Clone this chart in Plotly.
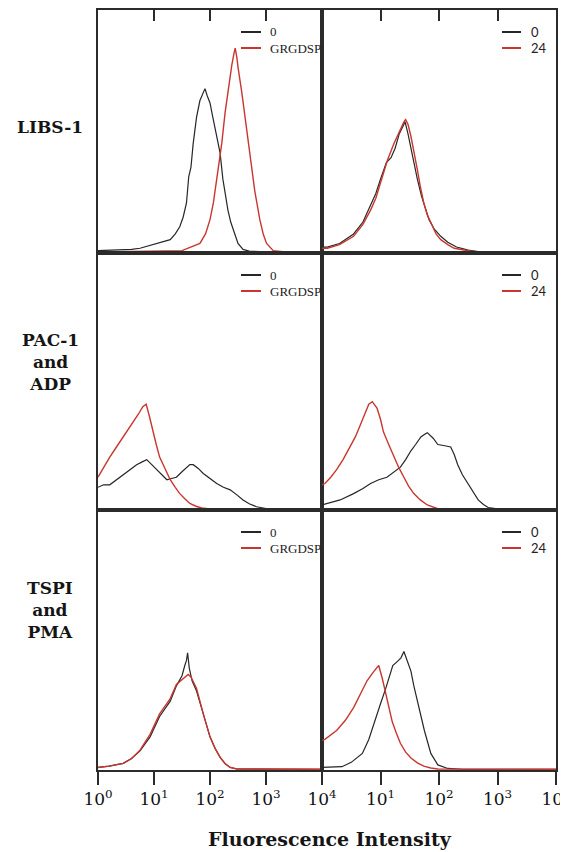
import plotly.graph_objects as go

# ---------------- data (log10 decade positions, % of panel height) ----------------
row_labels = ["LIBS-1", "PAC-1<br>and<br>ADP", "TSPI<br>and<br>PMA"]
legend_left = ["0", "GRGDSP"]
legend_right = ["0", "24"]
tick_vals = [1, 10, 100, 1000, 10000]
tick_text_left = ["10<sup>0</sup>", "10<sup>1</sup>", "10<sup>2</sup>", "10<sup>3</sup>", "10<sup>4</sup>"]
tick_text_right = ["", "10<sup>1</sup>", "10<sup>2</sup>", "10<sup>3</sup>", "10<sup>4</sup>"]
x_title = "Fluorescence Intensity"

# LIBS-1, left (0 vs GRGDSP)
black_A_d = [0.0, 0.3, 0.6, 0.75, 0.9, 1.05, 1.15, 1.29, 1.38, 1.46, 1.52, 1.58, 1.62, 1.66, 1.70, 1.76, 1.82,
             1.87, 1.91, 1.95, 2.0, 2.05, 2.09, 2.14, 2.18, 2.23, 2.28, 2.32, 2.37, 2.41, 2.46, 2.5, 2.59, 2.7, 3.0, 4.0]
black_A_h = [1.0, 1.2, 1.5, 2.0, 3.0, 4.0, 4.5, 5.6, 8, 11, 15, 21, 32, 36, 46, 57, 64,
             67, 69, 66, 63, 57, 52, 46, 42, 31, 24, 18, 13, 10, 6, 4, 1.5, 0.8, 0.5, 0.4]
red_A_d = [0.0, 1.0, 1.5, 1.82, 1.92, 2.0, 2.06, 2.12, 2.17, 2.21, 2.27, 2.33, 2.39, 2.43, 2.45, 2.48, 2.5,
           2.57, 2.63, 2.71, 2.8, 2.89, 2.95, 3.01, 3.13, 3.3, 4.0]
red_A_h = [0.4, 0.6, 1.0, 4, 8, 14, 21, 31, 39, 46, 59, 70, 79, 84, 86, 82, 78,
           67, 56, 42, 26, 14, 8, 4, 1, 0.5, 0.4]

# LIBS-1, right (0 vs 24)
black_B_d = [0, 0.09, 0.3, 0.54, 0.7, 0.83, 0.92, 1.0, 1.1, 1.18, 1.25, 1.32, 1.38, 1.42, 1.47, 1.52, 1.58,
             1.63, 1.7, 1.76, 1.83, 1.92, 2.03, 2.15, 2.3, 2.5, 2.7, 4.0]
black_B_h = [2.5, 2.5, 4, 8, 13, 20, 25, 31, 38, 40, 44, 50, 53, 55, 50, 44, 37,
             31, 24, 19, 14, 10, 7, 4.5, 2.5, 1.2, 0.5, 0.3]
red_B_d = [0, 0.09, 0.3, 0.54, 0.7, 0.83, 0.92, 1.0, 1.12, 1.23, 1.34, 1.4, 1.43, 1.47, 1.52, 1.58, 1.63,
           1.68, 1.74, 1.8, 1.86, 1.95, 2.03, 2.15, 2.26, 2.6, 4.0]
red_B_h = [2, 2, 3.5, 7, 12, 18, 23, 29, 39, 46, 52, 55, 56, 54, 49, 42, 35,
           28, 21, 16, 12.5, 8, 5.6, 3.5, 2, 0.5, 0.3]

# PAC-1 and ADP, left
black_C_d = [0.0, 0.1, 0.21, 0.33, 0.45, 0.57, 0.69, 0.78, 0.87, 0.96, 1.05, 1.14, 1.23, 1.31, 1.4, 1.49,
             1.58, 1.64, 1.70, 1.79, 1.88, 2.0, 2.12, 2.24, 2.36, 2.48, 2.59, 2.7, 2.83, 3.0, 4.0]
black_C_h = [9, 10, 10, 12, 14, 16, 18, 19, 20, 18, 16, 14, 12, 12.5, 13, 15,
             17, 18, 18, 16.5, 14.5, 12.5, 10.5, 9, 8, 6, 4, 2.5, 1.3, 0.6, 0.3]
red_C_d = [0.0, 0.1, 0.21, 0.33, 0.45, 0.55, 0.63, 0.72, 0.8, 0.86, 0.92, 0.98, 1.04, 1.1, 1.2, 1.29,
           1.38, 1.46, 1.55, 1.64, 1.75, 1.85, 2.0, 4.0]
red_C_h = [13, 17, 21, 25, 29, 32, 35, 38, 41, 42, 37, 31, 26, 21, 16, 12,
           9, 6.5, 4.5, 2.6, 1.5, 0.8, 0.4, 0.3]

# PAC-1 and ADP, right
black_D_d = [0.0, 0.15, 0.31, 0.54, 0.7, 0.83, 0.97, 1.11, 1.22, 1.34, 1.43, 1.52, 1.6, 1.69, 1.75, 1.8,
             1.9, 1.98, 2.1, 2.2, 2.26, 2.32, 2.4, 2.49, 2.58, 2.67, 2.76, 2.84, 3.0, 4.0]
black_D_h = [2, 3, 4, 6.5, 8.5, 10.5, 12, 13, 15, 17, 20, 23.5, 26, 29, 30, 30.7,
             28.5, 26, 25.5, 25, 22, 18, 14, 10.5, 7, 4, 2.2, 1, 0.5, 0.3]
red_D_d = [0.0, 0.05, 0.15, 0.25, 0.36, 0.48, 0.57, 0.66, 0.73, 0.8, 0.86, 0.94, 1.0, 1.05, 1.14, 1.23,
           1.31, 1.4, 1.48, 1.57, 1.68, 1.8, 1.98, 4.0]
red_D_h = [10, 10.5, 13, 16, 20, 25, 29, 34, 38, 42, 43, 40.5, 36, 31, 26, 21,
           17, 13, 9.5, 6.5, 4, 2, 0.5, 0.3]

# TSPI and PMA, left
black_E_d = [0.0, 0.2, 0.45, 0.6, 0.75, 0.93, 1.1, 1.29, 1.4, 1.5, 1.55, 1.58, 1.6, 1.63, 1.68, 1.76,
             1.88, 2.0, 2.09, 2.18, 2.27, 2.36, 2.48, 4.0]
black_E_h = [1, 1.5, 2.6, 4.5, 7.5, 13, 21, 27, 33, 37, 41, 43, 46, 40, 35, 31,
             22, 13, 8.5, 5, 2.5, 1, 0.4, 0.3]
red_E_d = [0.0, 0.2, 0.45, 0.6, 0.75, 0.93, 1.1, 1.29, 1.4, 1.52, 1.57, 1.61, 1.66, 1.76, 1.88, 2.0,
           2.09, 2.18, 2.27, 2.36, 2.48, 4.0]
red_E_h = [1, 1.5, 2.6, 4.5, 7.8, 14, 22, 28, 33.6, 36, 37, 37.5, 36.5, 32, 22, 13,
           8.5, 5, 2.5, 1, 0.4, 0.3]

# TSPI and PMA, right
black_F_d = [0.0, 0.34, 0.5, 0.69, 0.8, 0.92, 1.0, 1.09, 1.15, 1.21, 1.29, 1.35, 1.40, 1.46, 1.52, 1.57,
             1.63, 1.69, 1.75, 1.86, 1.98, 2.15, 2.4, 4.0]
black_F_h = [1, 1.3, 3, 6.5, 12, 20.7, 26, 32, 37, 41, 42.6, 44, 46.5, 43, 38.8, 33,
             27, 21, 15.5, 6.5, 2, 0.6, 0.3, 0.3]
red_F_d = [0.0, 0.05, 0.25, 0.4, 0.54, 0.66, 0.77, 0.88, 0.97, 1.03, 1.09, 1.15, 1.2, 1.27, 1.34, 1.43,
           1.52, 1.63, 1.74, 1.86, 1.98, 4.0]
red_F_h = [11.6, 12, 15.5, 19.5, 24.5, 30, 35, 38.5, 41, 36, 30, 24, 19, 14.5, 10.5, 7,
           4.7, 2.8, 1.5, 0.8, 0.4, 0.3]

panels = [
    (black_A_d, black_A_h, red_A_d, red_A_h),
    (black_B_d, black_B_h, red_B_d, red_B_h),
    (black_C_d, black_C_h, red_C_d, red_C_h),
    (black_D_d, black_D_h, red_D_d, red_D_h),
    (black_E_d, black_E_h, red_E_d, red_E_h),
    (black_F_d, black_F_h, red_F_d, red_F_h),
]

# ---------------- layout geometry ----------------
OFF = 8                      # page body margin of the browser
W, H = 560, 844
def px(x):
    return (x - OFF) / W
def py(y):
    return 1 - (y - OFF) / H

col_x = [(98, 322), (322, 556)]
row_y = [(10, 253), (253, 510), (510, 770)]

BLACK = "#262626"
RED = "#c8362f"
AXC = "#2b2b2b"

fig = go.Figure()
layout = dict(width=W, height=H, margin=dict(l=0, r=0, t=0, b=0, autoexpand=False),
              paper_bgcolor="white", plot_bgcolor="white", showlegend=False)

shapes = []
annotations = []

for i, (bd, bh, rd, rh) in enumerate(panels):
    r, c = divmod(i, 2)
    k = i + 1
    xa = "x" if k == 1 else f"x{k}"
    ya = "y" if k == 1 else f"y{k}"
    fig.add_trace(go.Scatter(x=[10 ** d for d in bd], y=bh, mode="lines",
                             line=dict(color=BLACK, width=1.2), xaxis=xa, yaxis=ya))
    fig.add_trace(go.Scatter(x=[10 ** d for d in rd], y=rh, mode="lines",
                             line=dict(color=RED, width=1.4), xaxis=xa, yaxis=ya))

    x0, x1 = col_x[c]
    y0, y1 = row_y[r]
    xaxis = dict(type="log", range=[0, 4], domain=[px(x0), px(x1)], anchor=ya,
                 showline=True, mirror=True, linecolor=AXC, linewidth=1.6,
                 showgrid=False, zeroline=False, fixedrange=True, automargin=False)
    if r == 0:
        xaxis.update(side="top", ticks="inside", ticklen=11, tickwidth=1.6, tickcolor=AXC,
                     tickvals=[10, 100, 1000], showticklabels=False)
    elif r == 1:
        xaxis.update(ticks="", showticklabels=False)
    else:
        xaxis.update(side="bottom", ticks="outside", ticklen=13, tickwidth=1.6, tickcolor=AXC,
                     tickvals=tick_vals, ticklabeloverflow="allow",
                     ticktext=tick_text_left if c == 0 else tick_text_right,
                     tickfont=dict(family="DejaVu Serif", size=17, color="#111"))
    yaxis = dict(range=[0, 102], domain=[py(y1), py(y0)], anchor=xa,
                 showline=True, mirror=True, linecolor=AXC, linewidth=1.6,
                 showgrid=False, zeroline=False, ticks="", showticklabels=False,
                 fixedrange=True, automargin=False)
    layout["xaxis" if k == 1 else f"xaxis{k}"] = xaxis
    layout["yaxis" if k == 1 else f"yaxis{k}"] = yaxis

    # legend
    labels = legend_left if c == 0 else legend_right
    if c == 0:
        lx0, lx1, tx = x0 + 143, x0 + 163, x0 + 170
        font = dict(family="Liberation Serif", size=13, color="#222")
    else:
        lx0, lx1, tx = x0 + 180, x0 + 199, x0 + 207
        font = dict(family="Lato", size=13, color="#222")
    ly = [y0 + 22, y0 + 38]
    for j, (lab, colr) in enumerate(zip(labels, [BLACK, RED])):
        shapes.append(dict(type="line", xref="paper", yref="paper",
                           x0=px(lx0), x1=px(lx1), y0=py(ly[j]), y1=py(ly[j]),
                           line=dict(color=colr, width=2)))
        annotations.append(dict(text=lab, xref="paper", yref="paper", x=px(tx), y=py(ly[j]),
                                xanchor="left", yanchor="middle", showarrow=False, font=font))

# row labels
row_label_y = [127, 362, 610]
for lab, yy in zip(row_labels, row_label_y):
    annotations.append(dict(text=f"<b>{lab}</b>", xref="paper", yref="paper", x=px(50), y=py(yy),
                            xanchor="center", yanchor="middle", showarrow=False, align="center",
                            font=dict(family="DejaVu Serif", size=17, color="#151515")))

annotations.append(dict(text=f"<b>{x_title}</b>", xref="paper", yref="paper", x=px(330), y=py(839),
                        xanchor="center", yanchor="middle", showarrow=False,
                        font=dict(family="DejaVu Serif", size=19, color="#151515")))

layout["shapes"] = shapes
layout["annotations"] = annotations
fig.update_layout(**layout)
fig.write_html("out.html")
